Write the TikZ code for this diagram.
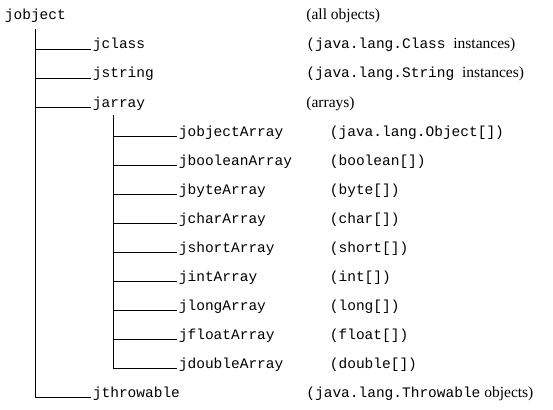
\documentclass[tikz,border=0pt]{standalone}
\usepackage{fontspec}
\setmainfont{Liberation Serif}
\setmonofont{Liberation Mono}
\begin{document}
\begin{tikzpicture}[x=1pt, y=-1pt, line width=0.8pt,
  every node/.style={inner sep=0pt, anchor=base west, font=\fontsize{15.5}{18}\selectfont},
  type/.style={font=\fontsize{14.5}{17}\selectfont\ttfamily, inner xsep=1.5pt}]
  \useasboundingbox (0,0) rectangle (553,409);
  % Root type
  \node[type] (jobject) at (3,20) {jobject};
  \node (d-jobject) at (306,20) {(all objects)};
  % First level types
  \foreach \n/\y in {jclass/49, jstring/78, jarray/107, jthrowable/397} {
    \node[type] (\n) at (91,\y) {\n};
  }
  \node (d-jclass) at (306,49) {{\fontsize{14.5}{17}\selectfont\ttfamily (java.lang.Class}\ \ instances)};
  \node (d-jstring) at (306,78) {{\fontsize{14.5}{17}\selectfont\ttfamily (java.lang.String}\ \ instances)};
  \node (d-jarray) at (306,107) {(arrays)};
  \node (d-jthrowable) at (306,397) {{\fontsize{14.5}{17}\selectfont\ttfamily (java.lang.Throwable}\ objects)};
  % Array types
  \foreach \n/\t/\y in {jobjectArray/java.lang.Object/136, jbooleanArray/boolean/165,
      jbyteArray/byte/194, jcharArray/char/223, jshortArray/short/252,
      jintArray/int/281, jlongArray/long/310, jfloatArray/float/339,
      jdoubleArray/double/368} {
    \node[type] (\n) at (177,\y) {\n};
    \node[type] (d-\n) at (328,\y) {(\t[])};
  }
  % Trunk lines
  \coordinate (trunk) at (35,29);
  \draw (trunk) -- (trunk |- jthrowable.base west);
  \foreach \n in {jclass, jstring, jarray, jthrowable}
    \draw (trunk |- \n.base west) -- (\n.base west);
  \coordinate (branch) at (113,115);
  \draw (branch) -- (branch |- jdoubleArray.base west);
  \foreach \n in {jobjectArray, jbooleanArray, jbyteArray, jcharArray, jshortArray,
      jintArray, jlongArray, jfloatArray, jdoubleArray}
    \draw (branch |- \n.base west) -- (\n.base west);
\end{tikzpicture}
\end{document}
